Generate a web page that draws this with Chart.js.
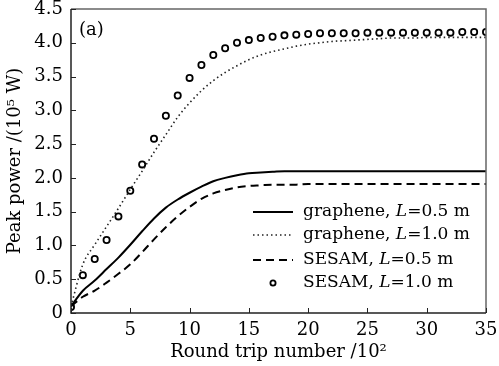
<!DOCTYPE html>
<html>
<head>
<meta charset="utf-8">
<script src="https://cdn.jsdelivr.net/npm/chart.js@4/dist/chart.umd.min.js"></script>
<style>
html,body{margin:0;padding:0;background:#fff;}
#wrap{width:499px;height:366px;position:relative;}
</style>
</head>
<body>
<div id="wrap"><canvas id="c" width="499" height="366"></canvas></div>
<script>
const roundTrips = [0,1,2,3,4,5,6,7,8,9,10,11,12,13,14,15,16,17,18,19,20,21,22,23,24,25,26,27,28,29,30,31,32,33,34,35];
const grapheneL05 = [0.10,0.33,0.48,0.65,0.82,1.01,1.21,1.40,1.56,1.68,1.78,1.87,1.95,2.00,2.04,2.07,2.08,2.09,2.10,2.10,2.10,2.10,2.10,2.10,2.10,2.10,2.10,2.10,2.10,2.10,2.10,2.10,2.10,2.10,2.10,2.10];
const grapheneL10 = [0.10,0.72,1.01,1.28,1.55,1.83,2.10,2.38,2.64,2.90,3.11,3.29,3.44,3.56,3.66,3.75,3.82,3.87,3.91,3.95,3.98,4.00,4.02,4.03,4.04,4.05,4.06,4.07,4.07,4.07,4.08,4.08,4.08,4.08,4.08,4.08];
const sesamL05 = [0.10,0.24,0.33,0.45,0.58,0.72,0.90,1.09,1.27,1.43,1.57,1.69,1.77,1.82,1.86,1.88,1.89,1.90,1.90,1.90,1.91,1.91,1.91,1.91,1.91,1.91,1.91,1.91,1.91,1.91,1.91,1.91,1.91,1.91,1.91,1.91];
const sesamL10 = [0.09,0.56,0.80,1.08,1.43,1.81,2.20,2.58,2.92,3.22,3.48,3.67,3.82,3.92,4.00,4.04,4.07,4.09,4.11,4.12,4.13,4.14,4.14,4.14,4.14,4.15,4.15,4.15,4.15,4.15,4.15,4.15,4.15,4.16,4.16,4.16];
const xTicks = [0,5,10,15,20,25,30,35];
const yTicks = [0,0.5,1.0,1.5,2.0,2.5,3.0,3.5,4.0,4.5];
const legendLabels = [
  ['graphene, ', 'L', '=0.5 m'],
  ['graphene, ', 'L', '=1.0 m'],
  ['SESAM, ', 'L', '=0.5 m'],
  ['SESAM, ', 'L', '=1.0 m']
];
const panelLabel = '(a)';

const FONT = '"DejaVu Serif", serif';
const pts = arr => arr.map((v,i)=>({x:roundTrips[i], y:v}));

const frameAndTicks = {
  id:'frameAndTicks',
  afterDatasetsDraw(chart){
    const {ctx, chartArea:a, scales:{x,y}} = chart;
    ctx.save();
    ctx.lineWidth = 1.5;
    ctx.strokeStyle = '#666';
    ctx.beginPath();
    ctx.moveTo(a.left, a.top); ctx.lineTo(a.right, a.top); ctx.lineTo(a.right, a.bottom);
    ctx.stroke();
    ctx.strokeStyle = '#222';
    ctx.beginPath();
    ctx.moveTo(a.right, a.bottom); ctx.lineTo(a.left, a.bottom); ctx.lineTo(a.left, a.top);
    ctx.stroke();
    ctx.lineWidth = 1;
    ctx.beginPath();
    xTicks.forEach(v=>{const px=Math.round(x.getPixelForValue(v))+0.5; ctx.moveTo(px,a.bottom); ctx.lineTo(px,a.bottom-5);});
    yTicks.forEach(v=>{const py=Math.round(y.getPixelForValue(v))+0.5; ctx.moveTo(a.left,py); ctx.lineTo(a.left+5,py);});
    ctx.stroke();
    // panel label
    ctx.fillStyle = '#000';
    ctx.font = '18px ' + FONT;
    ctx.textBaseline = 'middle';
    ctx.textAlign = 'left';
    ctx.fillText(panelLabel, a.left+8, a.top+21);
    // legend
    const ds = chart.data.datasets;
    const lx0 = 253, lx1 = 293, tx = 303;
    const rows = [212,235,260,283];
    ds.forEach((d,i)=>{
      const yy = rows[i];
      ctx.save();
      if (d.showLine === false) {
        ctx.beginPath();
        ctx.lineWidth = 1.8;
        ctx.strokeStyle = '#000';
        ctx.arc((lx0+lx1)/2, yy, 2.6, 0, Math.PI*2);
        ctx.stroke();
      } else {
        ctx.beginPath();
        ctx.lineWidth = d.borderWidth;
        ctx.strokeStyle = d.borderColor;
        ctx.setLineDash(d.borderDash || []);
        ctx.moveTo(lx0, yy); ctx.lineTo(lx1, yy);
        ctx.stroke();
      }
      ctx.restore();
      const parts = legendLabels[i];
      let cx = tx;
      ctx.font = '17px ' + FONT;
      ctx.fillText(parts[0], cx, yy); cx += ctx.measureText(parts[0]).width;
      ctx.font = 'italic 17px ' + FONT;
      ctx.fillText(parts[1], cx, yy); cx += ctx.measureText(parts[1]).width;
      ctx.font = '17px ' + FONT;
      ctx.fillText(parts[2], cx, yy);
    });
    ctx.restore();
  }
};

new Chart(document.getElementById('c'), {
  type:'scatter',
  data:{
    datasets:[
      {label:'graphene, L=0.5 m', data:pts(grapheneL05), showLine:true, borderColor:'#000', borderWidth:2, pointRadius:0, cubicInterpolationMode:'monotone', fill:false},
      {label:'graphene, L=1.0 m', data:pts(grapheneL10), showLine:true, borderColor:'#222', borderWidth:1.6, borderDash:[1.5,3], pointRadius:0, cubicInterpolationMode:'monotone', fill:false},
      {label:'SESAM, L=0.5 m', data:pts(sesamL05), showLine:true, borderColor:'#000', borderWidth:2, borderDash:[8,5], pointRadius:0, cubicInterpolationMode:'monotone', fill:false},
      {label:'SESAM, L=1.0 m', data:pts(sesamL10), showLine:false, borderColor:'#000', backgroundColor:'rgba(0,0,0,0)', borderWidth:1.8, pointRadius:3.1, pointStyle:'circle'}
    ]
  },
  options:{
    responsive:false,
    animation:false,
    devicePixelRatio:1,
    layout:{padding:{top:9, right:13, left:0, bottom:3}},
    plugins:{legend:{display:false}, tooltip:{enabled:false}},
    scales:{
      x:{
        type:'linear', min:0, max:35,
        afterBuildTicks(s){ s.ticks = xTicks.map(v=>({value:v})); },
        afterFit(s){ s.height = 50; s.paddingLeft = 0; s.paddingRight = 0; },
        grid:{display:false, drawTicks:false},
        border:{display:false},
        ticks:{color:'#000', font:{family:FONT, size:18}, padding:7, maxRotation:0, callback:v=>String(v)},
        title:{display:true, text:'Round trip number /10²', color:'#000', font:{family:FONT, size:18}, padding:{top:0,bottom:0}}
      },
      y:{
        type:'linear', min:0, max:4.5,
        afterBuildTicks(s){ s.ticks = yTicks.map(v=>({value:v})); },
        afterFit(s){ s.width = 71; s.paddingTop = 0; s.paddingBottom = 0; },
        grid:{display:false, drawTicks:false},
        border:{display:false},
        ticks:{color:'#000', font:{family:FONT, size:18}, padding:8, callback:v=> v===0 ? '0' : Number(v).toFixed(1)},
        title:{display:true, text:'Peak power /(10⁵ W)', color:'#000', font:{family:FONT, size:18}, padding:{top:5,bottom:0}}
      }
    }
  },
  plugins:[frameAndTicks]
});
</script>
</body>
</html>
